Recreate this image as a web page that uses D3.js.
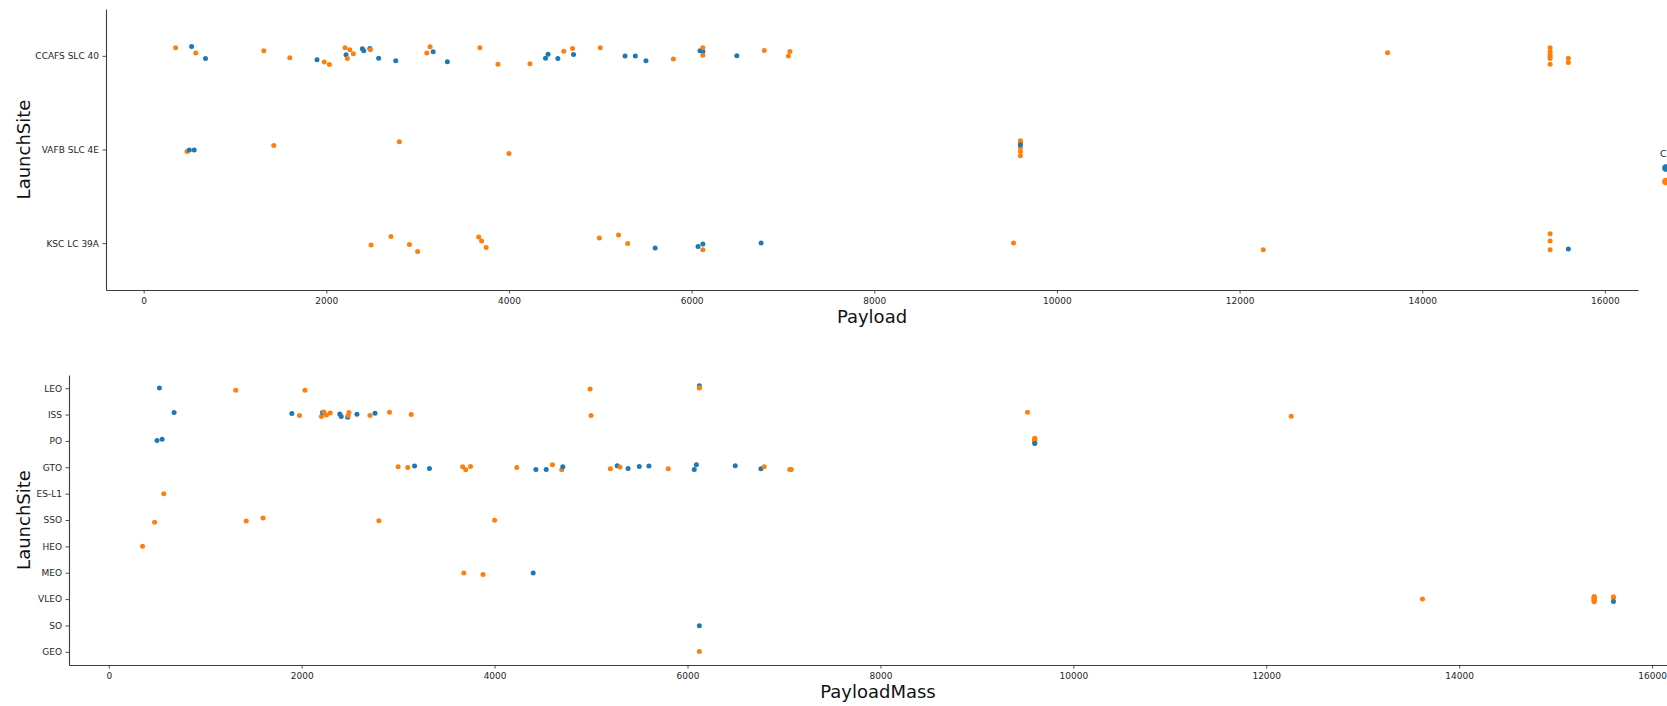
<!DOCTYPE html>
<html>
<head>
<meta charset="utf-8">
<script src="https://cdn.jsdelivr.net/npm/d3@7"></script>
<style>
  html, body { margin: 0; padding: 0; background: #fff; }
  svg { display: block; font-family: "DejaVu Sans", sans-serif; }
</style>
</head>
<body>
<svg id="chart" width="1667" height="706"></svg>
<script>
// Categories and ticks
const launchSites = ["CCAFS SLC 40", "VAFB SLC 4E", "KSC LC 39A"];
const orbits = ["LEO", "ISS", "PO", "GTO", "ES-L1", "SSO", "HEO", "MEO", "VLEO", "SO", "GEO"];
const classes = [0, 1];
const payloadTicks = [0, 2000, 4000, 6000, 8000, 10000, 12000, 14000, 16000];

// Launches: [payload mass (kg), launch site, orbit, class]
const flights = [
  [350, "CCAFS SLC 40", "HEO", 1],
  [475, "VAFB SLC 4E", "SSO", 1],
  [500, "VAFB SLC 4E", "PO", 0],
  [525, "CCAFS SLC 40", "LEO", 0],
  [553, "VAFB SLC 4E", "PO", 0],
  [570, "CCAFS SLC 40", "ES-L1", 1],
  [677, "CCAFS SLC 40", "ISS", 0],
  [1316, "CCAFS SLC 40", "LEO", 1],
  [1425, "VAFB SLC 4E", "SSO", 1],
  [1600, "CCAFS SLC 40", "SSO", 1],
  [1898, "CCAFS SLC 40", "ISS", 0],
  [1977, "CCAFS SLC 40", "ISS", 1],
  [2034, "CCAFS SLC 40", "LEO", 1],
  [2205, "CCAFS SLC 40", "ISS", 1],
  [2216, "CCAFS SLC 40", "ISS", 0],
  [2230, "CCAFS SLC 40", "ISS", 1],
  [2257, "CCAFS SLC 40", "ISS", 1],
  [2296, "CCAFS SLC 40", "ISS", 1],
  [2395, "CCAFS SLC 40", "ISS", 0],
  [2410, "CCAFS SLC 40", "ISS", 0],
  [2477, "CCAFS SLC 40", "ISS", 0],
  [2482, "CCAFS SLC 40", "ISS", 1],
  [2490, "KSC LC 39A", "ISS", 1],
  [2573, "CCAFS SLC 40", "ISS", 0],
  [2708, "KSC LC 39A", "ISS", 1],
  [2760, "CCAFS SLC 40", "ISS", 0],
  [2800, "VAFB SLC 4E", "SSO", 1],
  [2910, "KSC LC 39A", "ISS", 1],
  [3000, "KSC LC 39A", "GTO", 1],
  [3100, "CCAFS SLC 40", "GTO", 1],
  [3136, "CCAFS SLC 40", "ISS", 1],
  [3170, "CCAFS SLC 40", "GTO", 0],
  [3325, "CCAFS SLC 40", "GTO", 0],
  [3669, "KSC LC 39A", "GTO", 1],
  [3681, "CCAFS SLC 40", "MEO", 1],
  [3700, "KSC LC 39A", "GTO", 1],
  [3750, "KSC LC 39A", "GTO", 1],
  [3880, "CCAFS SLC 40", "MEO", 1],
  [4000, "VAFB SLC 4E", "SSO", 1],
  [4230, "CCAFS SLC 40", "GTO", 1],
  [4400, "CCAFS SLC 40", "MEO", 0],
  [4428, "CCAFS SLC 40", "GTO", 0],
  [4535, "CCAFS SLC 40", "GTO", 0],
  [4600, "CCAFS SLC 40", "GTO", 1],
  [4696, "CCAFS SLC 40", "GTO", 1],
  [4707, "CCAFS SLC 40", "GTO", 0],
  [4990, "KSC LC 39A", "LEO", 1],
  [5000, "CCAFS SLC 40", "ISS", 1],
  [5200, "KSC LC 39A", "GTO", 1],
  [5271, "CCAFS SLC 40", "GTO", 0],
  [5300, "KSC LC 39A", "GTO", 1],
  [5384, "CCAFS SLC 40", "GTO", 0],
  [5500, "CCAFS SLC 40", "GTO", 0],
  [5600, "KSC LC 39A", "GTO", 0],
  [5800, "CCAFS SLC 40", "GTO", 1],
  [6070, "KSC LC 39A", "GTO", 0],
  [6092, "CCAFS SLC 40", "GTO", 0],
  [6123, "CCAFS SLC 40", "LEO", 0],
  [6123, "CCAFS SLC 40", "LEO", 1],
  [6123, "KSC LC 39A", "LEO", 1],
  [6123, "CCAFS SLC 40", "GEO", 1],
  [6123, "KSC LC 39A", "SO", 0],
  [6495, "CCAFS SLC 40", "GTO", 0],
  [6761, "KSC LC 39A", "GTO", 0],
  [6795, "CCAFS SLC 40", "GTO", 1],
  [7060, "CCAFS SLC 40", "GTO", 1],
  [7076, "CCAFS SLC 40", "GTO", 1],
  [9525, "KSC LC 39A", "ISS", 1],
  [9600, "VAFB SLC 4E", "PO", 1],
  [9600, "VAFB SLC 4E", "PO", 1],
  [9600, "VAFB SLC 4E", "PO", 1],
  [9600, "VAFB SLC 4E", "PO", 1],
  [9600, "VAFB SLC 4E", "PO", 1],
  [9600, "VAFB SLC 4E", "PO", 1],
  [9600, "VAFB SLC 4E", "PO", 0],
  [12259, "KSC LC 39A", "ISS", 1],
  [13620, "CCAFS SLC 40", "VLEO", 1],
  [15400, "CCAFS SLC 40", "VLEO", 1],
  [15400, "CCAFS SLC 40", "VLEO", 1],
  [15400, "CCAFS SLC 40", "VLEO", 1],
  [15400, "CCAFS SLC 40", "VLEO", 1],
  [15400, "CCAFS SLC 40", "VLEO", 1],
  [15400, "CCAFS SLC 40", "VLEO", 1],
  [15400, "KSC LC 39A", "VLEO", 1],
  [15400, "KSC LC 39A", "VLEO", 1],
  [15400, "KSC LC 39A", "VLEO", 1],
  [15600, "CCAFS SLC 40", "VLEO", 1],
  [15600, "CCAFS SLC 40", "VLEO", 1],
  [15600, "KSC LC 39A", "VLEO", 0]
];

// Strip-plot jitter for each launch, in fractions of one category step
const siteJitter = [
  -0.085, 0.021, 0.006, -0.099, 0.006, -0.029, 0.029, -0.053, -0.043, 0.021,
  0.043, 0.067, 0.093, -0.085, -0.011, 0.029, -0.064, -0.021, -0.075, -0.053,
  -0.078, -0.064, 0.020, 0.025, -0.072, 0.053, -0.082, 0.014, 0.089, -0.029,
  -0.096, -0.043, 0.064, -0.065, -0.085, -0.022, 0.046, 0.089, 0.043, 0.085,
  0.025, -0.018, 0.029, -0.050, -0.078, -0.014, -0.054, -0.085, -0.086, 0.003,
  0.003, 0.003, 0.053, 0.052, 0.035, 0.035, -0.053, -0.045, -0.085, 0.070,
  -0.007, 0.010, 0.000, -0.001, -0.057, 0.003, -0.046, -0.001,
  -0.093, -0.075, -0.021, 0.021, 0.067, -0.060, -0.050,
  0.070, -0.032,
  -0.085, -0.043, -0.014, 0.007, 0.029, 0.089,
  -0.100, -0.022, 0.070,
  0.025, 0.071, 0.063
];
const orbitJitter = [
  0.000, 0.088, -0.013, -0.006, -0.063, 0.000, -0.076, 0.082, 0.038, -0.076,
  -0.038, 0.038, 0.082, 0.076, -0.076, -0.100, 0.013, -0.063, -0.025, 0.076,
  0.100, 0.038, -0.076, -0.013, 0.038, -0.050, 0.025, -0.088, -0.019, 0.006,
  0.000, -0.044, 0.044, -0.019, 0.013, 0.095, -0.032, 0.063, 0.013, 0.006,
  0.013, 0.082, 0.082, -0.095, 0.095, -0.019, 0.032, 0.038, 0.057, -0.057,
  -0.006, 0.044, -0.032, -0.044, 0.057, 0.082, -0.095, -0.095, -0.019, -0.010,
  -0.010, 0.010, -0.057, 0.057, -0.019, 0.082, 0.082, -0.088,
  -0.100, -0.050, 0.000, 0.050, -0.075, 0.025, 0.100,
  0.063, 0.000,
  -0.100, -0.060, -0.030, 0.020, 0.050, 0.100,
  -0.080, 0.000, 0.080,
  -0.087, -0.050, 0.087
];

const classColor = d3.scaleOrdinal().domain(classes).range(["#1f77b4", "#ff7f0e"]);
const svg = d3.select("#chart");

// Shared payload domain with 5% margins on each side
const [minMass, maxMass] = d3.extent(flights, d => d[0]);
const margin = (maxMass - minMass) * 0.05;
const massDomain = [minMass - margin, maxMass + margin];

const axisColor = "#3d3d3d";
const textColor = "#262626";

function drawPanel(opts) {
  const { box, categories, catIndex, jitter, xTitle, yTitle, xTitleY } = opts;
  const g = svg.append("g");

  const x = d3.scaleLinear().domain(massDomain).range([box.left, box.right]);
  const y = d3.scalePoint().domain(categories).range([box.top, box.bottom]).padding(0.5);
  const step = y.step();

  // points
  g.append("g").selectAll("circle")
    .data(flights.map((f, i) => ({ mass: f[0], cat: f[catIndex], cls: f[3], j: jitter[i] })))
    .join("circle")
    .attr("cx", d => x(d.mass))
    .attr("cy", d => y(d.cat) + d.j * step)
    .attr("r", 2.5)
    .attr("fill", d => classColor(d.cls));

  // x axis
  const xAxis = g.append("g")
    .attr("transform", `translate(0,${box.bottom})`)
    .call(d3.axisBottom(x).tickValues(payloadTicks).tickFormat(d3.format("d"))
      .tickSize(3.5).tickSizeOuter(0).tickPadding(4));
  // y axis
  const yAxis = g.append("g")
    .attr("transform", `translate(${box.left},0)`)
    .call(d3.axisLeft(y).tickSize(3.5).tickSizeOuter(0).tickPadding(3.5));

  [xAxis, yAxis].forEach(a => {
    a.select(".domain").attr("stroke", axisColor).attr("stroke-width", 1.1);
    a.selectAll(".tick line").attr("stroke", axisColor).attr("stroke-width", 0.9);
    a.selectAll(".tick text")
      .attr("fill", textColor)
      .attr("font-size", 9)
      .attr("font-family", "DejaVu Sans, sans-serif");
  });

  g.append("text")
    .attr("x", (box.left + box.right) / 2)
    .attr("y", xTitleY)
    .attr("text-anchor", "middle")
    .attr("font-size", 18)
    .attr("fill", "#111")
    .text(xTitle);

  g.append("text")
    .attr("transform", `translate(30,${(box.top + box.bottom) / 2}) rotate(-90)`)
    .attr("text-anchor", "middle")
    .attr("font-size", 18)
    .attr("fill", "#111")
    .text(yTitle);
}

drawPanel({
  box: { left: 106, right: 1638, top: 9, bottom: 290 },
  categories: launchSites, catIndex: 1, jitter: siteJitter,
  xTitle: "Payload", yTitle: "LaunchSite", xTitleY: 323
});

drawPanel({
  box: { left: 69, right: 1687, top: 375, bottom: 665 },
  categories: orbits, catIndex: 2, jitter: orbitJitter,
  xTitle: "PayloadMass", yTitle: "LaunchSite", xTitleY: 698
});

// Class legend, sitting against the right edge of the page
const legend = svg.append("g").attr("transform", "translate(1660,157)");
legend.append("text")
  .attr("font-size", 9.5)
  .attr("fill", textColor)
  .text("Class");
legend.selectAll("circle").data(classes).join("circle")
  .attr("cx", 6)
  .attr("cy", (d, i) => 11 + i * 13.5)
  .attr("r", 3.8)
  .attr("fill", d => classColor(d));
</script>
</body>
</html>
